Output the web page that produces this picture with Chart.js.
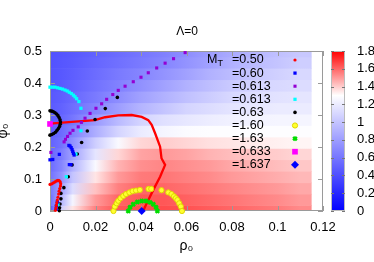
<!DOCTYPE html>
<html>
<head>
<meta charset="utf-8">
<script src="https://cdn.jsdelivr.net/npm/chart.js@4.4.1/dist/chart.umd.min.js"></script>
<style>
  html, body { margin: 0; padding: 0; background: #fff; }
</style>
</head>
<body>
<canvas id="chart" width="374" height="262"></canvas>
<script>
// colour map grid: rho0 columns, phi0 rows (bottom to top)
const rhoCols = [0, 0.005, 0.01, 0.02, 0.03, 0.04, 0.05, 0.06, 0.07, 0.08, 0.09, 0.10, 0.11];
const rhoEdge = 0.115;
const phiRows = [0, 0.036, 0.071, 0.107, 0.143, 0.179, 0.214, 0.25, 0.286, 0.321, 0.357, 0.393, 0.429, 0.464, 0.5];
const fieldRows = [
  [0.40, 1.05, 1.35, 1.55, 1.63, 1.65, 1.65, 1.64, 1.62, 1.60, 1.58, 1.56, 1.53],
  [0.55, 0.92, 1.25, 1.50, 1.60, 1.63, 1.63, 1.61, 1.59, 1.57, 1.55, 1.53, 1.50],
  [0.60, 0.82, 1.12, 1.42, 1.55, 1.60, 1.60, 1.58, 1.56, 1.54, 1.52, 1.50, 1.47],
  [0.58, 0.74, 1.00, 1.35, 1.50, 1.56, 1.57, 1.55, 1.53, 1.50, 1.48, 1.46, 1.44],
  [0.55, 0.68, 0.90, 1.27, 1.45, 1.52, 1.54, 1.52, 1.50, 1.47, 1.45, 1.43, 1.41],
  [0.52, 0.63, 0.82, 1.17, 1.38, 1.48, 1.50, 1.48, 1.45, 1.43, 1.41, 1.40, 1.38],
  [0.50, 0.58, 0.74, 1.05, 1.27, 1.38, 1.40, 1.38, 1.36, 1.35, 1.34, 1.33, 1.32],
  [0.48, 0.55, 0.66, 0.88, 1.08, 1.20, 1.25, 1.28, 1.29, 1.29, 1.29, 1.29, 1.29],
  [0.47, 0.52, 0.60, 0.78, 0.95, 1.08, 1.14, 1.18, 1.21, 1.23, 1.24, 1.25, 1.25],
  [0.46, 0.50, 0.56, 0.68, 0.80, 0.92, 1.00, 1.08, 1.12, 1.16, 1.18, 1.20, 1.20],
  [0.45, 0.48, 0.53, 0.62, 0.72, 0.82, 0.90, 0.98, 1.04, 1.10, 1.13, 1.15, 1.17],
  [0.44, 0.46, 0.50, 0.58, 0.66, 0.74, 0.82, 0.90, 0.97, 1.03, 1.08, 1.10, 1.12],
  [0.43, 0.45, 0.48, 0.55, 0.62, 0.68, 0.75, 0.82, 0.90, 0.96, 1.02, 1.06, 1.10],
  [0.42, 0.44, 0.46, 0.52, 0.57, 0.62, 0.68, 0.75, 0.82, 0.90, 0.96, 1.00, 1.05],
  [0.42, 0.43, 0.45, 0.50, 0.55, 0.60, 0.65, 0.72, 0.80, 0.87, 0.93, 0.98, 1.02]
];

// curves, [rho0, phi0]
const redLine = [[0, 0.273], [0.011, 0.279], [0.0198, 0.284], [0.0242, 0.293], [0.03, 0.299], [0.0359, 0.3], [0.0403, 0.294],
  [0.0432, 0.284], [0.0447, 0.269], [0.0462, 0.243], [0.0484, 0.201], [0.049, 0.165], [0.0506, 0.144], [0.0484, 0.107],
  [0.0454, 0.066], [0.0418, 0.013], [0.041, 0]];
const mt050 = [[0, 0.083], [0.0008, 0.085], [0.0015, 0.088], [0.0022, 0.091], [0.0029, 0.094], [0.0035, 0.096], [0.004, 0.095],
  [0.0045, 0.091], [0.0047, 0.085], [0.0046, 0.078], [0.0043, 0.07], [0.004, 0.062], [0.0038, 0.053], [0.0035, 0.043],
  [0.0032, 0.034], [0.003, 0.026], [0.0028, 0.018], [0.0026, 0.01], [0.0024, 0.002]];
const mt060 = [[0, 0.16], [0.0012, 0.161], [0.0041, 0.177], [0.0083, 0.205], [0.0088, 0.203], [0.0093, 0.198], [0.0097, 0.192],
  [0.01, 0.186], [0.0103, 0.18], [0.0106, 0.175], [0.0085, 0.145], [0.0092, 0.145], [0.0032, 0.028], [0.0028, 0.016], [0.0027, 0.005]];
const mt0613a = [[0.0004, 0.183], [0.0062, 0.216], [0.0068, 0.224], [0.0077, 0.233], [0.0088, 0.243], [0.0101, 0.252], [0.0124, 0.263],
  [0.0138, 0.277], [0.0154, 0.29], [0.0176, 0.305], [0.0202, 0.321], [0.0227, 0.335], [0.0249, 0.349], [0.0276, 0.364], [0.03, 0.377],
  [0.033, 0.39], [0.0366, 0.404], [0.04, 0.418], [0.0432, 0.432], [0.0469, 0.447], [0.0506, 0.462], [0.0543, 0.476], [0.0594, 0.495]];
const mt0613b = [[0, 0.387], [0.0011, 0.387], [0.0022, 0.387], [0.0033, 0.385], [0.0044, 0.383], [0.0055, 0.381], [0.0066, 0.378],
  [0.0076, 0.375], [0.0085, 0.371], [0.0094, 0.367], [0.0103, 0.362], [0.011, 0.357], [0.0117, 0.351], [0.0127, 0.342],
  [0.0136, 0.321], [0.0136, 0.251], [0.0114, 0.178], [0.0072, 0.107], [0.0035, 0.02]];
const mt063 = [[0, 0.313], [0.0008, 0.312], [0.0015, 0.31], [0.0022, 0.307], [0.0029, 0.303], [0.0035, 0.298], [0.004, 0.292],
  [0.0044, 0.285], [0.0046, 0.278], [0.0045, 0.271], [0.0042, 0.264], [0.0037, 0.258], [0.0031, 0.252], [0.0024, 0.246],
  [0.0016, 0.242], [0.0008, 0.239], [0, 0.237],
  [0.0296, 0.355], [0.0243, 0.32], [0.0198, 0.286], [0.0164, 0.25], [0.0139, 0.214], [0.012, 0.178], [0.0097, 0.144],
  [0.008, 0.107], [0.0061, 0.073], [0.0048, 0.055], [0.0048, 0.038], [0.0044, 0.022], [0.0042, 0.01], [0.0041, 0.001]];
const mt160 = [[0.0279, 0], [0.0285, 0.014], [0.0293, 0.024], [0.03, 0.032], [0.031, 0.04], [0.0322, 0.047], [0.0334, 0.053],
  [0.0349, 0.058], [0.0363, 0.062], [0.0378, 0.064], [0.0395, 0.066], [0.0433, 0.069], [0.0445, 0.069], [0.049, 0.065],
  [0.052, 0.058], [0.0534, 0.053], [0.0545, 0.046], [0.0553, 0.04], [0.056, 0.034], [0.0568, 0.024], [0.0575, 0.014], [0.058, 0]];
const mt163 = [[0.0344, 0], [0.0352, 0.012], [0.0366, 0.021], [0.0384, 0.028], [0.0403, 0.031], [0.0422, 0.031], [0.044, 0.027],
  [0.0454, 0.021], [0.0466, 0.012], [0.0472, 0]];
const mt0633 = [[0, 0.272]];
const mt1637 = [[0.0403, 0]];

const seriesLabels = ["=0.50", "=0.60", "=0.613", "=0.613", "=0.63", "=1.60", "=1.63", "=0.633", "=1.637"];
const xTicks = [0, 0.02, 0.04, 0.06, 0.08, 0.1, 0.12];
const yTicks = [0, 0.1, 0.2, 0.3, 0.4, 0.5];
const cbTicks = [0, 0.2, 0.4, 0.6, 0.8, 1, 1.2, 1.4, 1.6, 1.8];

// blue -> white -> red palette
function shade(v) {
  const w = 1.3;
  if (v <= w) {
    const t = Math.max(0, v / w);
    const c = Math.round(255 * t);
    return `rgb(${c},${c},255)`;
  }
  const t = Math.min(1, (v - w) / 0.5);
  const c = Math.round(255 * (1 - t));
  return `rgb(255,${c},${c})`;
}

const pts = arr => arr.map(([x, y]) => ({ x, y }));
const fmt = v => String(+(+v).toFixed(3));

Chart.defaults.font.family = '"Liberation Sans", Arial, sans-serif';
Chart.defaults.color = "#000";

const FRAME = "#9a9a9a";

const fieldPlugin = {
  id: "field",
  beforeDatasetsDraw(chart) {
    const { ctx, chartArea: a, scales: { x, y, cb } } = chart;
    ctx.save();
    ctx.beginPath();
    ctx.rect(a.left, a.top, a.right - a.left, a.bottom - a.top);
    ctx.clip();
    const x0 = x.getPixelForValue(rhoCols[0]);
    const x1 = x.getPixelForValue(rhoEdge);
    phiRows.forEach((phi, i) => {
      const lo = i === 0 ? phi : (phiRows[i - 1] + phi) / 2;
      const hi = i === phiRows.length - 1 ? phi : (phi + phiRows[i + 1]) / 2;
      const yt = y.getPixelForValue(hi), yb = y.getPixelForValue(lo);
      const g = ctx.createLinearGradient(x0, 0, x1, 0);
      const row = fieldRows[i];
      row.forEach((v, j) => g.addColorStop((x.getPixelForValue(rhoCols[j]) - x0) / (x1 - x0), shade(v)));
      g.addColorStop(1, shade(row[row.length - 1]));
      ctx.fillStyle = g;
      ctx.fillRect(x0, yt, x1 - x0, yb - yt + 0.6);
    });
    ctx.restore();

    // frame + inward ticks
    ctx.save();
    ctx.strokeStyle = FRAME;
    ctx.lineWidth = 1;
    ctx.strokeRect(a.left + 0.5, a.top + 0.5, a.right - a.left - 1, a.bottom - a.top - 1);
    ctx.beginPath();
    xTicks.forEach(v => {
      const px = Math.round(x.getPixelForValue(v)) + 0.5;
      ctx.moveTo(px, a.bottom); ctx.lineTo(px, a.bottom - 5);
      ctx.moveTo(px, a.top); ctx.lineTo(px, a.top + 5);
    });
    yTicks.forEach(v => {
      const py = Math.round(y.getPixelForValue(v)) + 0.5;
      ctx.moveTo(a.left, py); ctx.lineTo(a.left + 5, py);
      ctx.moveTo(a.right, py); ctx.lineTo(a.right - 5, py);
    });
    ctx.stroke();

    // colour box
    const bx = a.right + 8, bw = 14;
    const top = cb.getPixelForValue(1.8), bot = cb.getPixelForValue(0);
    const g = ctx.createLinearGradient(0, bot, 0, top);
    for (let k = 0; k <= 18; k++) g.addColorStop(k / 18, shade(k * 0.1));
    ctx.fillStyle = g;
    ctx.fillRect(bx, top, bw, bot - top);
    ctx.strokeStyle = "#bbb";
    ctx.strokeRect(bx + 0.5, top + 0.5, bw - 1, bot - top - 1);
    ctx.strokeStyle = "#777";
    ctx.beginPath();
    cbTicks.forEach(v => {
      const py = Math.round(cb.getPixelForValue(v)) + 0.5;
      ctx.moveTo(bx, py); ctx.lineTo(bx + 3, py);
      ctx.moveTo(bx + bw, py); ctx.lineTo(bx + bw - 3, py);
    });
    ctx.stroke();
    ctx.restore();
  },
  afterDatasetsDraw(chart) {
    const { ctx, chartArea: a } = chart;
    ctx.save();
    const tx = a.left + 182, mx = a.right - 28;
    ctx.font = '12.5px "Liberation Sans", Arial, sans-serif';
    ctx.fillStyle = "#000";
    ctx.textBaseline = "middle";
    ctx.fillText("M", tx - 25, a.top + 8.5);
    ctx.font = '9px "Liberation Sans", Arial, sans-serif';
    ctx.fillText("T", tx - 14.5, a.top + 12.5);
    ctx.font = '12.5px "Liberation Sans", Arial, sans-serif';
    chart.data.datasets.filter(d => d.label).forEach((d, i) => {
      const yy = a.top + 9 + i * 13.1;
      ctx.fillStyle = "#000";
      ctx.fillText(d.label, tx, yy);
      ctx.fillStyle = d.backgroundColor;
      ctx.strokeStyle = d.borderColor;
      ctx.lineWidth = d.pointBorderWidth;
      Chart.helpers.drawPoint(ctx, {
        pointStyle: d.pointStyle, radius: d.pointRadius, rotation: 0, borderWidth: d.pointBorderWidth
      }, mx, yy);
    });
    ctx.restore();
  }
};

const dot = (label, data, color, style, r, bw, border) => ({
  label, data: pts(data), backgroundColor: color, borderColor: border || color,
  pointStyle: style, pointRadius: r, pointBorderWidth: bw, pointHoverRadius: r, showLine: false, clip: false
});

new Chart(document.getElementById("chart"), {
  type: "scatter",
  data: {
    datasets: [
      { label: "", data: pts(redLine), showLine: true, borderColor: "#ff0000", borderWidth: 2.3, pointRadius: 0, clip: false, order: 5 },
      dot(seriesLabels[0], mt050, "#ff0000", "circle", 1.6, 0),
      dot(seriesLabels[1], mt060, "#0000ff", "rect", 2.3, 0),
      dot(seriesLabels[2], mt0613a, "#9400d3", "rect", 2.2, 0),
      dot(seriesLabels[3], mt0613b, "#00ffff", "rect", 2.3, 0),
      dot(seriesLabels[4], mt063, "#000000", "circle", 1.8, 0),
      dot(seriesLabels[5], mt160, "#ffff30", "circle", 2.6, 1, "#e0d800"),
      dot(seriesLabels[6], mt163, "#00dd00", "crossRot", 2.6, 2.5),
      dot(seriesLabels[7], mt0633, "#ff00ff", "rect", 4, 0),
      dot(seriesLabels[8], mt1637, "#0000ff", "rectRot", 4, 0)
    ]
  },
  options: {
    responsive: false,
    devicePixelRatio: 1,
    animation: false,
    events: [],
    layout: { padding: 0 },
    plugins: {
      legend: { display: false },
      tooltip: { enabled: false },
      title: {
        display: true, text: "Λ=0", color: "#000",
        font: { size: 12, weight: "normal" }, padding: { top: 24.8, bottom: 11.8 }
      }
    },
    scales: {
      x: {
        type: "linear", min: 0, max: 0.12,
        afterFit: s => { s.height = 51; },
        afterBuildTicks: s => { s.ticks = xTicks.map(value => ({ value })); },
        grid: { display: false, drawTicks: false },
        border: { display: false },
        ticks: { font: { size: 13 }, padding: 9, maxRotation: 0, autoSkip: false, callback: fmt },
        title: { display: true, text: "ρ₀", font: { size: 14 }, padding: { top: 0, bottom: 7 } }
      },
      y: {
        type: "linear", min: 0, max: 0.5, position: "left",
        afterFit: s => { s.width = 50; },
        afterBuildTicks: s => { s.ticks = yTicks.map(value => ({ value })); },
        grid: { display: false, drawTicks: false },
        border: { display: false },
        ticks: { font: { size: 13 }, padding: 8, autoSkip: false, callback: fmt },
        title: { display: true, text: "φ₀", font: { size: 14, lineHeight: 0.4 }, padding: 0 }
      },
      cb: {
        type: "linear", min: 0, max: 1.8, position: "right",
        afterFit: s => { s.width = 51; },
        afterBuildTicks: s => { s.ticks = cbTicks.map(value => ({ value })); },
        grid: { display: false, drawTicks: false },
        border: { display: false },
        ticks: { font: { size: 13 }, padding: 34, autoSkip: false, callback: fmt }
      }
    }
  },
  plugins: [fieldPlugin]
});
</script>
</body>
</html>
